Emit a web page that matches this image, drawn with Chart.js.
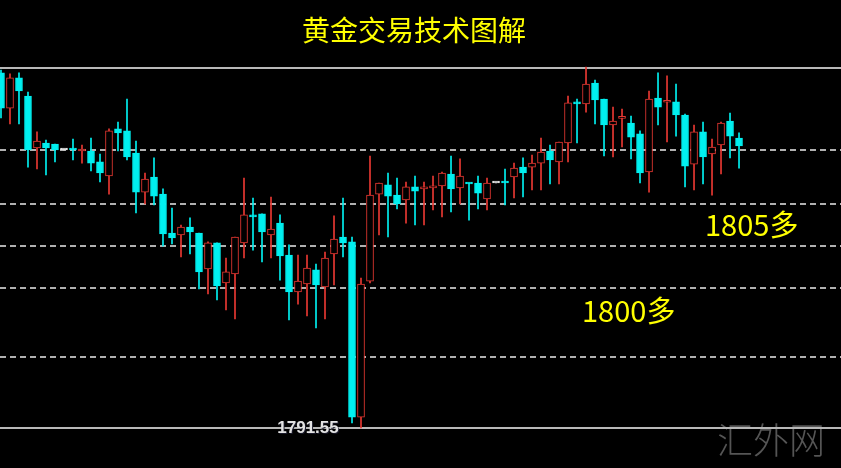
<!DOCTYPE html>
<html lang="zh-CN">
<head>
  <meta charset="UTF-8">
  <title>黄金交易技术图解</title>
  <script src="https://cdn.jsdelivr.net/npm/chart.js@4"></script>
  <style>
    html, body {
      margin: 0;
      padding: 0;
      background: #000;
    }
    canvas {
      display: block;
    }
  </style>
</head>
<body>
  <canvas id="goldChart" width="841" height="468"></canvas>

  <script>
    // candle values (one entry per bar, left to right)
    const opens = [1812.98, 1810.86, 1812.68, 1811.59, 1808.45, 1808.75, 1808.69, 1808.33, 1808.39, 1808.27,
      1808.27, 1807.61, 1806.76, 1809.60, 1809.48, 1808.15, 1805.79, 1806.70, 1805.67, 1803.32,
      1803.20, 1803.68, 1803.32, 1801.15, 1802.72, 1800.30, 1800.85, 1802.72, 1804.41, 1804.47,
      1803.20, 1803.92, 1801.99, 1799.76, 1800.24, 1801.09, 1800.06, 1802.05, 1803.08, 1802.78,
      1792.21, 1800.42, 1805.67, 1806.22, 1805.61, 1805.31, 1806.10, 1805.98, 1806.04, 1806.16,
      1806.88, 1806.04, 1806.34, 1806.34, 1805.37, 1806.34, 1806.40, 1806.70, 1807.30, 1807.30,
      1807.54, 1808.27, 1807.61, 1808.75, 1811.23, 1811.11, 1812.37, 1811.41, 1809.84, 1810.24,
      1809.96, 1809.30, 1807.00, 1811.47, 1811.21, 1811.23, 1810.44, 1807.48, 1809.42, 1808.09,
      1808.63, 1810.08, 1809.05];
    const highs = [1813.16, 1812.92, 1812.98, 1811.83, 1809.42, 1808.93, 1808.69, 1808.33, 1808.99, 1808.63,
      1809.05, 1808.09, 1809.60, 1810.02, 1811.41, 1808.87, 1806.94, 1807.85, 1805.98, 1804.83,
      1803.80, 1804.23, 1803.32, 1802.78, 1802.72, 1801.81, 1803.08, 1806.64, 1805.43, 1804.47,
      1805.49, 1804.41, 1802.60, 1801.99, 1801.99, 1801.45, 1802.17, 1804.35, 1805.43, 1803.08,
      1800.60, 1807.97, 1806.34, 1806.94, 1806.64, 1806.40, 1806.76, 1806.40, 1806.76, 1807.00,
      1807.97, 1807.79, 1806.34, 1806.76, 1806.64, 1806.34, 1807.18, 1807.54, 1807.85, 1808.03,
      1809.05, 1808.63, 1808.81, 1811.59, 1811.41, 1813.34, 1812.55, 1811.41, 1810.92, 1810.80,
      1810.38, 1809.48, 1811.89, 1812.98, 1812.80, 1812.31, 1810.50, 1809.84, 1810.02, 1808.99,
      1810.02, 1810.56, 1809.36];
    const lows = [1810.26, 1809.90, 1809.90, 1807.30, 1807.18, 1806.82, 1807.61, 1808.33, 1807.73, 1807.54,
      1807.06, 1806.40, 1805.67, 1808.27, 1807.73, 1804.53, 1805.07, 1805.01, 1802.53, 1802.66,
      1801.87, 1802.05, 1799.94, 1799.64, 1799.28, 1798.67, 1798.13, 1801.81, 1802.29, 1801.57,
      1801.81, 1800.48, 1798.07, 1799.03, 1798.31, 1797.59, 1798.13, 1800.18, 1801.87, 1791.85,
      1791.55, 1800.30, 1803.20, 1803.08, 1804.77, 1803.92, 1803.80, 1803.80, 1804.71, 1804.29,
      1804.59, 1805.07, 1804.10, 1804.77, 1804.71, 1806.34, 1805.01, 1805.43, 1805.49, 1805.92,
      1805.92, 1806.28, 1806.28, 1807.61, 1808.75, 1810.62, 1809.90, 1807.97, 1807.91, 1808.51,
      1807.79, 1806.34, 1805.79, 1809.84, 1808.81, 1809.17, 1806.10, 1805.92, 1806.28, 1805.61,
      1806.88, 1807.85, 1807.24];
    const closes = [1810.86, 1812.68, 1811.89, 1808.33, 1808.87, 1808.45, 1808.33, 1808.33, 1808.33, 1808.33,
      1807.54, 1806.94, 1809.48, 1809.36, 1807.91, 1805.79, 1806.58, 1805.55, 1803.26, 1803.02,
      1803.68, 1803.38, 1800.97, 1802.72, 1800.12, 1800.97, 1803.08, 1804.41, 1804.29, 1803.38,
      1803.56, 1801.93, 1799.76, 1800.42, 1801.21, 1800.18, 1801.81, 1802.96, 1802.72, 1792.21,
      1800.24, 1805.61, 1806.34, 1805.55, 1805.07, 1806.10, 1805.85, 1806.04, 1806.16, 1806.94,
      1805.98, 1806.76, 1806.28, 1805.73, 1806.34, 1806.34, 1806.34, 1807.24, 1806.94, 1807.54,
      1808.21, 1807.73, 1808.81, 1811.17, 1811.11, 1812.31, 1811.35, 1809.84, 1810.08, 1810.26,
      1809.11, 1806.94, 1811.41, 1810.92, 1811.23, 1810.44, 1807.36, 1809.42, 1807.91, 1808.51,
      1809.96, 1809.17, 1808.57];

    // horizontal price levels drawn on the chart (first and last are solid)
    const levels = [1813.28, 1808.33, 1805.07, 1802.53, 1800.00, 1795.84, 1791.55];
    const lowLabel = '1791.55';

    const title = '黄金交易技术图解';
    const notes = ['1805多', '1800多'];
    const watermark = '汇外网';

    const UP = 'rgb(232, 56, 50)';
    const DOWN = 'rgb(0, 240, 240)';
    const FLAT = '#e8e8e8';

    function candleColor(i) {
      if (closes[i] > opens[i]) return UP;
      if (closes[i] < opens[i]) return DOWN;
      return FLAT;
    }

    const bodies = opens.map((o, i) => ({ x: i, y: [o, closes[i]] }));
    const wicks = lows.map((l, i) => ({ x: i, y: [l, highs[i]] }));

    // levels, watermark and texts
    const overlay = {
      id: 'overlay',
      beforeDatasetsDraw(chart) {
        const { ctx, chartArea, scales: { y } } = chart;
        ctx.save();
        ctx.font = '300 36px "Noto Sans CJK SC"';
        ctx.fillStyle = '#555555';
        ctx.textBaseline = 'middle';
        ctx.fillText(watermark, 717, 440);

        levels.forEach((p, k) => {
          const py = Math.round(y.getPixelForValue(p));
          const solid = k === 0 || k === levels.length - 1;
          ctx.beginPath();
          ctx.lineWidth = 2;
          ctx.strokeStyle = solid ? '#b8b8b8' : '#b0b0b0';
          ctx.setLineDash(solid ? [] : [6, 4]);
          ctx.moveTo(chartArea.left, py);
          ctx.lineTo(chartArea.right, py);
          ctx.stroke();
        });
        ctx.restore();
      },
      afterDraw(chart) {
        const { ctx, scales: { y } } = chart;
        ctx.save();
        ctx.fillStyle = '#ffff00';
        ctx.textBaseline = 'middle';
        ctx.textAlign = 'center';
        ctx.font = '28px "Noto Sans CJK SC"';
        ctx.fillText(title, 414, 30);

        ctx.textAlign = 'left';
        ctx.font = '29px "Noto Sans CJK SC"';
        ctx.fillText(notes[0], 705, 225);
        ctx.fillText(notes[1], 582, 311);

        // low price marker
        const py = Math.round(y.getPixelForValue(levels[levels.length - 1]));
        ctx.textAlign = 'center';
        ctx.font = 'bold 17px "Liberation Sans"';
        ctx.fillStyle = '#1a1a2a';
        ctx.fillText(lowLabel, 309, py + 1);
        ctx.fillStyle = '#e2e2e2';
        ctx.fillText(lowLabel, 308, py);
        ctx.restore();
      }
    };

    new Chart(document.getElementById('goldChart'), {
      type: 'bar',
      data: {
        datasets: [
          {
            label: 'body',
            data: bodies,
            grouped: false,
            barThickness: 7,
            minBarLength: 2,
            borderWidth: 1,
            borderSkipped: false,
            borderColor: ctx => candleColor(ctx.dataIndex),
            backgroundColor: ctx => candleColor(ctx.dataIndex) === UP ? '#000' : candleColor(ctx.dataIndex)
          },
          {
            label: 'wick',
            data: wicks,
            grouped: false,
            barThickness: 1,
            borderWidth: 0,
            backgroundColor: ctx => candleColor(ctx.dataIndex)
          }
        ]
      },
      options: {
        responsive: false,
        animation: false,
        layout: { padding: 0 },
        plugins: {
          legend: { display: false },
          tooltip: { enabled: false }
        },
        scales: {
          x: { type: 'linear', display: false, offset: false, min: -0.11, max: 93.33 },
          y: { display: false, min: 1789.136, max: 1817.383 }
        }
      },
      plugins: [overlay]
    });
  </script>
</body>
</html>
